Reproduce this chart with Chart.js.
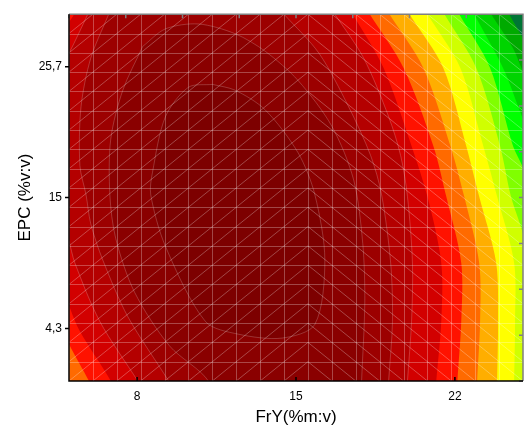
<!DOCTYPE html>
<html>
<head>
<meta charset="utf-8">
<script src="https://cdn.jsdelivr.net/npm/chart.js@4.4.1/dist/chart.umd.min.js"></script>
<style>
  html, body { margin: 0; padding: 0; background: #fff; }
  #surface { display: block; }
</style>
</head>
<body>
<canvas id="surface" width="524" height="434"></canvas>
<script>
const xRange = [5, 25];
const yRange = [0, 30];
const xTicks = [8, 15, 22];
const yTicks = [4.3, 15, 25.7];

// contour outlines [FrY, EPC], innermost first; points past the frame close a band off-screen
const c1 = [[11.32,24.26],[12.32,23.78],[13.64,22.18],[15.09,18.67],[15.83,15.24],[16.27,9.89],[15.83,4.63],[14.39,3.51],[12.46,3.83],[11.01,4.87],[9.25,11.01],[8.60,15.24],[8.68,17.08],[9.25,21.62],[10.26,24.02],[11.32,24.26]];
const c2 = [[8.25,27.37],[9.25,28.80],[10.70,29.20],[12.32,28.40],[13.64,26.97],[15.09,24.58],[16.58,20.83],[17.54,16.44],[17.94,11.25],[18.03,6.46],[17.89,0],[17.86,-2],[11.12,-2],[11.14,0],[9.43,2.87],[7.89,7.26],[7.06,11.65],[6.80,15.24],[6.84,19.79],[7.37,23.78],[8.25,27.37]];
const c3 = [[7.08,31.5],[6.75,30.0],[5.96,26.41],[5.53,22.42],[5.48,17.63],[5.75,15.24],[5.96,12.85],[6.49,9.89],[7.59,5.27],[9.39,0],[10.0,-2],[19.02,-2],[19.08,0],[19.25,4.87],[19.17,9.65],[18.77,15.24],[18.29,18.43],[17.32,22.42],[16.01,26.81],[14.47,30.0],[13.75,31.5]];
const c4 = [[16.18,31.5],[16.71,30.0],[17.98,26.41],[19.08,21.62],[19.61,18.43],[19.91,15.08],[20.13,9.65],[20.09,4.87],[19.91,0],[19.85,-2],[8.7,-2],[8.03,0],[6.36,4.87],[5.26,9.65],[5.0,11.49],[4.52,14.84],[4.39,21.62],[4.69,26.01],[5.0,26.81],[5.83,30.0],[6.22,31.5]];
const c5 = [[17.03,31.5],[17.50,30.0],[18.86,25.61],[20.09,19.23],[20.79,15.08],[21.40,9.65],[21.40,4.87],[21.18,0],[21.1,-2],[7.3,-2],[6.84,0],[5.48,4.07],[5.0,6.22],[4.17,11.25],[4.08,24.02],[4.61,28.40],[5.0,29.36],[5.22,30.0],[5.45,31.5]];
const c6 = [[17.74,31.5],[18.25,30.0],[19.74,25.61],[21.05,19.23],[21.62,15.08],[22.28,9.65],[22.28,4.87],[22.11,0],[22.05,-2],[6.4,-2],[5.88,0],[5.0,3.03],[4.39,5.66],[3.5,14],[3.5,31.5]];
const c7 = [[18.61,31.5],[19.12,30.0],[20.61,25.61],[21.80,19.23],[22.41,15.08],[23.07,9.65],[23.11,4.87],[22.98,0],[22.93,-2],[3.5,-2],[3.5,31.5]];
const c8 = [[19.49,31.5],[20.0,30.0],[21.49,25.61],[22.50,19.23],[23.07,15.08],[23.82,9.65],[23.90,4.87],[23.86,0],[23.83,-2],[3.5,-2],[3.5,31.5]];
const c9 = [[20.29,31.5],[20.79,30.0],[22.24,25.61],[23.25,19.23],[23.86,15.08],[24.61,9.65],[24.65,4.87],[24.61,0],[24.58,-2],[3.5,-2],[3.5,31.5]];
const c10 = [[21.06,31.5],[21.54,30.0],[22.94,25.61],[23.99,19.23],[24.47,15.08],[24.96,12.29],[25.66,7.26],[26.5,-2],[3.5,-2],[3.5,31.5]];
const c11 = [[21.72,31.5],[22.19,30.0],[23.55,25.61],[24.56,19.23],[24.96,17.63],[25.88,13.64],[26.5,-2],[3.5,-2],[3.5,31.5]];
const c12 = [[22.42,31.5],[22.85,30.0],[24.12,25.61],[24.96,21.62],[25.66,18.43],[26.5,-2],[3.5,-2],[3.5,31.5]];
const c13 = [[23.09,31.5],[23.60,30.0],[24.56,27.21],[24.96,25.45],[25.66,22.42],[26.5,-2],[3.5,-2],[3.5,31.5]];
const c14 = [[23.92,31.5],[24.39,30.0],[24.96,28.17],[25.66,26.01],[26.5,-2],[3.5,-2],[3.5,31.5]];

const contours = [c1, c2, c3, c4, c5, c6, c7, c8, c9, c10, c11, c12, c13, c14];
// colour inside each contour, then the lowest band in the corner
const bandColors = ['#7d0000', '#8a0000', '#9c0000', '#b40000', '#d20000', '#ff1200', '#ff6a00', '#ffae00',
                    '#ffff00', '#d0ff00', '#80ff00', '#00ff00', '#00d400', '#00aa00'];
const cornerColor = '#007535';

const meshCells = 19;   // sampling grid, 20 x 20 nodes
const meshFlip = 10;    // diagonals change direction at this column

Chart.defaults.font.family = "'Liberation Sans', Arial, sans-serif";
Chart.defaults.color = '#000';

const datasets = contours.map((pts, i) => ({
  data: pts.map(p => ({ x: p[0], y: p[1] })),
  showLine: true,
  fill: 'shape',
  backgroundColor: bandColors[i],
  borderColor: i < 4 ? 'rgba(255,255,255,0.2)' : 'rgba(0,0,0,0)',
  borderWidth: i < 4 ? 1 : 0,
  pointRadius: 0,
  tension: 0.3
}));

const frame = {
  id: 'frame',
  beforeDatasetsDraw(chart) {
    const { ctx, chartArea: a } = chart;
    ctx.save();
    ctx.fillStyle = cornerColor;
    ctx.fillRect(a.left, a.top, a.right - a.left, a.bottom - a.top);
    ctx.restore();
  },
  afterDatasetsDraw(chart) {
    const { ctx, chartArea: a, scales: { x, y } } = chart;
    const xs = [], ys = [];
    for (let i = 0; i <= meshCells; i++) {
      xs.push(x.getPixelForValue(xRange[0] + (xRange[1] - xRange[0]) * i / meshCells));
      ys.push(y.getPixelForValue(yRange[0] + (yRange[1] - yRange[0]) * i / meshCells));
    }
    ctx.save();
    ctx.beginPath();
    ctx.rect(a.left, a.top, a.right - a.left, a.bottom - a.top);
    ctx.clip();
    ctx.strokeStyle = 'rgba(255,255,255,0.28)';
    ctx.lineWidth = 1;
    ctx.beginPath();
    xs.forEach(px => { ctx.moveTo(Math.round(px) + 0.5, a.top); ctx.lineTo(Math.round(px) + 0.5, a.bottom); });
    ys.forEach(py => { ctx.moveTo(a.left, Math.round(py) + 0.5); ctx.lineTo(a.right, Math.round(py) + 0.5); });
    for (let i = 0; i < meshCells; i++) {
      for (let j = 0; j < meshCells; j++) {
        if (i < meshFlip) { ctx.moveTo(xs[i], ys[j]); ctx.lineTo(xs[i + 1], ys[j + 1]); }
        else { ctx.moveTo(xs[i], ys[j + 1]); ctx.lineTo(xs[i + 1], ys[j]); }
      }
    }
    ctx.stroke();
    ctx.restore();

    // frame and tick marks
    ctx.save();
    ctx.lineWidth = 1.5;
    ctx.strokeStyle = '#808080';
    ctx.beginPath();
    ctx.moveTo(a.left, a.top); ctx.lineTo(a.right, a.top); ctx.lineTo(a.right, a.bottom);
    for (let v = xRange[0]; v <= xRange[1]; v += 2.5) {
      const px = x.getPixelForValue(v);
      ctx.moveTo(px, a.top); ctx.lineTo(px, a.top + 4);
    }
    for (let v = yRange[0]; v <= yRange[1]; v += 3.75) {
      const py = y.getPixelForValue(v);
      ctx.moveTo(a.right, py); ctx.lineTo(a.right - 4, py);
    }
    ctx.stroke();
    ctx.strokeStyle = '#000';
    ctx.beginPath();
    ctx.moveTo(a.left, a.top); ctx.lineTo(a.left, a.bottom); ctx.lineTo(a.right, a.bottom);
    xTicks.forEach(v => { const px = x.getPixelForValue(v); ctx.moveTo(px, a.bottom - 4); ctx.lineTo(px, a.bottom); });
    yTicks.forEach(v => { const py = y.getPixelForValue(v); ctx.moveTo(a.left - 4, py); ctx.lineTo(a.left, py); });
    ctx.stroke();
    ctx.restore();
  }
};

new Chart(document.getElementById('surface'), {
  type: 'scatter',
  data: { datasets },
  options: {
    responsive: false,
    animation: false,
    layout: { padding: { top: 6, right: 1, left: 0, bottom: 0 } },
    elements: { line: { capBezierPoints: false } },
    plugins: { legend: { display: false }, tooltip: { enabled: false } },
    scales: {
      x: {
        type: 'linear', min: xRange[0], max: xRange[1],
        afterBuildTicks: axis => { axis.ticks = xTicks.map(v => ({ value: v })); },
        afterFit: axis => { axis.height = 53; },
        grid: { display: false, drawTicks: false },
        border: { display: false },
        ticks: { font: { size: 12 }, padding: 8, maxRotation: 0, autoSkip: false,
                 callback: v => String(v).replace('.', ',') },
        title: { display: true, text: 'FrY(%m:v)', font: { size: 17 }, padding: { top: 0, bottom: 6 } }
      },
      y: {
        type: 'linear', min: yRange[0], max: yRange[1],
        afterBuildTicks: axis => { axis.ticks = yTicks.map(v => ({ value: v })); },
        afterFit: axis => { axis.width = 69; },
        grid: { display: false, drawTicks: false },
        border: { display: false },
        ticks: { font: { size: 12 }, padding: 7, autoSkip: false,
                 callback: v => String(v).replace('.', ',') },
        title: { display: true, text: 'EPC (%v:v)', font: { size: 17 }, padding: { top: 15, bottom: 0 } }
      }
    }
  },
  plugins: [frame]
});
</script>
</body>
</html>
